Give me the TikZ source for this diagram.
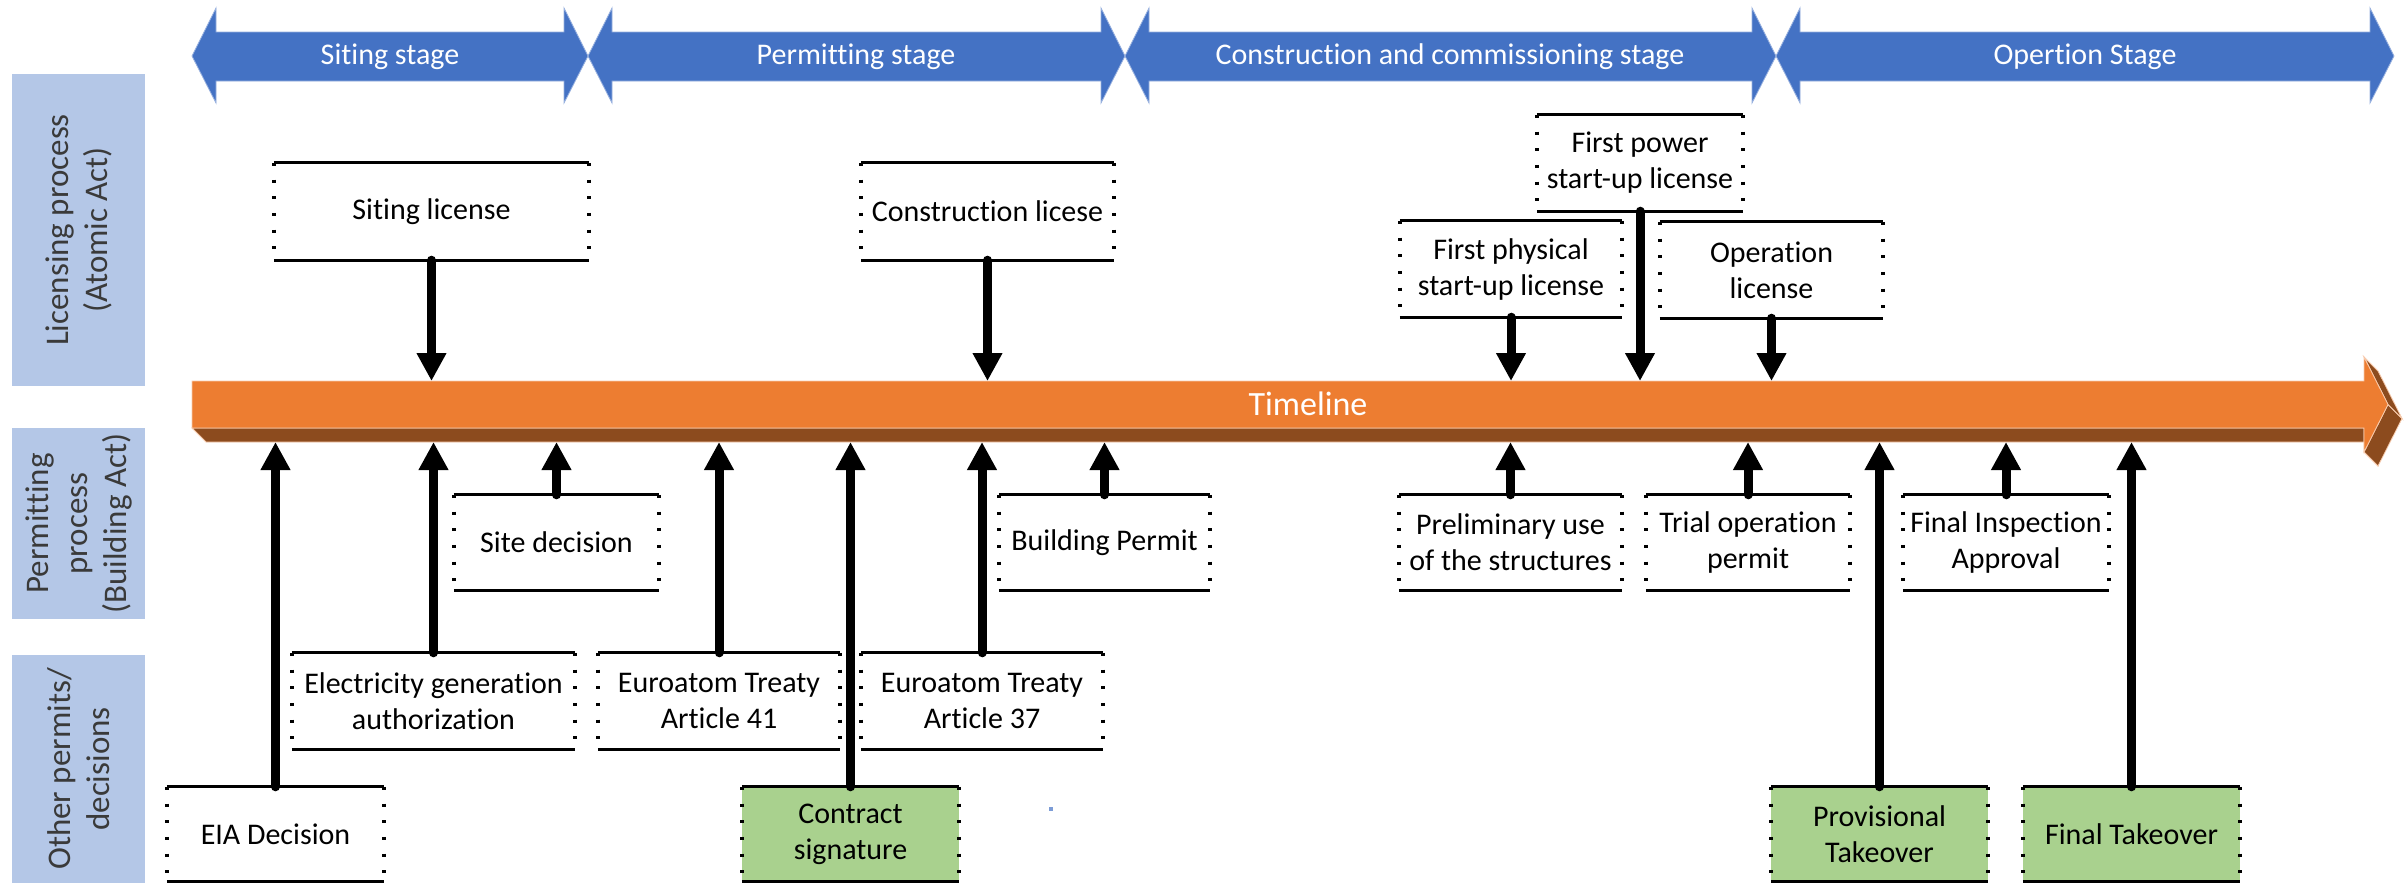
\documentclass[tikz,border=0pt]{standalone}
\usepackage{fontspec}
\setmainfont{Carlito}[Ligatures=NoCommon]
\usetikzlibrary{arrows.meta}
\definecolor{stageblue}{HTML}{4472C4}
\definecolor{labelblue}{HTML}{B4C7E7}
\definecolor{tlfront}{HTML}{ED7D31}
\definecolor{tlside}{HTML}{8C4B1E}
\definecolor{tledge}{HTML}{F8CBAD}
\definecolor{takegreen}{HTML}{A9D18E}
\definecolor{lanetextcol}{HTML}{3A3A3A}
\begin{document}
\begin{tikzpicture}[x=1pt,y=-1pt,
  stagearrow/.style={fill=stageblue, draw=stageblue!55!white, line width=0.8pt},
  stagetext/.style={text=white, inner sep=0pt, font=\fontsize{30}{36}\selectfont},
  lanebox/.style={fill=labelblue, rotate=90, minimum height=133pt, inner sep=0pt, align=center, text=lanetextcol, font=\fontsize{33}{39}\selectfont},
  evbox/.style={inner sep=0pt, align=center, font=\fontsize{30}{36}\selectfont},
  greenbox/.style={evbox, fill=takegreen},
  solidedge/.style={line width=3.2pt},
  dotedge/.style={line width=3.5pt, dash pattern=on 3pt off 13.7pt},
  conn/.style={line width=9pt, line cap=round, -{Triangle[length=28pt,width=28pt]}},
]
\useasboundingbox (0,0) rectangle (2405,884);
\fill[white] (0,0) rectangle (2405,884);

% stage arrows
\filldraw[stagearrow] (192,56) -- (216,8) -- (216,32) -- (564,32) -- (564,8) -- (588,56) -- (564,103) -- (564,81) -- (216,81) -- (216,103) -- cycle;
\filldraw[stagearrow] (588,56) -- (612,8) -- (612,32) -- (1101,32) -- (1101,8) -- (1125,56) -- (1101,103) -- (1101,81) -- (612,81) -- (612,103) -- cycle;
\filldraw[stagearrow] (1125,56) -- (1149,8) -- (1149,32) -- (1752,32) -- (1752,8) -- (1776,56) -- (1752,103) -- (1752,81) -- (1149,81) -- (1149,103) -- cycle;
\filldraw[stagearrow] (1776,56) -- (1800,8) -- (1800,32) -- (2370,32) -- (2370,8) -- (2394,56) -- (2370,103) -- (2370,81) -- (1800,81) -- (1800,103) -- cycle;
\node[stagetext] (stage1) at (390,57) {Siting stage};
\node[stagetext] (stage2) at (856,57) {Permitting stage};
\node[stagetext] (stage3) at (1450,57) {Construction and commissioning stage};
\node[stagetext] (stage4) at (2085,57) {Opertion Stage};

% lane labels
\node[lanebox, minimum width=312pt] (lane1) at (78.5,230) {Licensing process\\(Atomic Act)};
\node[lanebox, minimum width=191pt] (lane2) at (78.5,523.5) {Permitting\\process\\(Building Act)};
\node[lanebox, minimum width=228pt] (lane3) at (78.5,769) {Other permits/\\decisions};

% timeline (3D arrow)
\filldraw[fill=tlside, draw=tledge, line width=0.8pt] (192,428) -- (2364,428) -- (2378,442) -- (206,442) -- cycle;
\filldraw[fill=tlside, draw=tledge, line width=0.8pt] (2364,428) -- (2364,452) -- (2378,466) -- (2378,442) -- cycle;
\filldraw[fill=tlside, draw=tledge, line width=0.8pt] (2364,452) -- (2388,404.5) -- (2402,418.5) -- (2378,466) -- cycle;
\filldraw[fill=tlside, draw=tledge, line width=0.8pt] (2364,357) -- (2388,404.5) -- (2402,418.5) -- (2378,371) -- cycle;
\filldraw[fill=tlfront, draw=tledge, line width=0.8pt] (192,381) -- (2364,381) -- (2364,357) -- (2388,404.5) -- (2364,452) -- (2364,428) -- (192,428) -- cycle;
\node[text=white, inner sep=0pt, font=\fontsize{34}{40}\selectfont] (tl) at (1308,404) {Timeline};
\coordinate (tltop) at (0,381);
\coordinate (tlbot) at (0,442);

% licensing boxes
\node[evbox, minimum width=315pt, minimum height=97pt] (siting) at (431.5,211.5) {Siting license};
\node[evbox, minimum width=253pt, minimum height=97pt] (constr) at (987.5,211.5) {Construction licese};
\node[evbox, minimum width=206pt, minimum height=96pt] (fpower) at (1640,163) {First power\\start-up license};
\node[evbox, minimum width=222pt, minimum height=96pt] (fphys) at (1511,269) {First physical\\start-up license};
\node[evbox, minimum width=223pt, minimum height=96pt] (oplic) at (1771.5,270) {Operation\\license};

% permitting boxes
\node[evbox, minimum width=205pt, minimum height=95pt] (sitedec) at (556.5,542.5) {Site decision};
\node[evbox, minimum width=211pt, minimum height=95pt] (buildp) at (1104.5,542.5) {Building Permit};
\node[evbox, minimum width=223pt, minimum height=95pt] (prelim) at (1510.5,542.5) {Preliminary use\\of the structures};
\node[evbox, minimum width=204pt, minimum height=95pt] (trial) at (1748,542.5) {Trial operation\\permit};
\node[evbox, minimum width=206pt, minimum height=95pt] (finsp) at (2006,542.5) {Final Inspection\\Approval};

% other permits
\node[evbox, minimum width=283pt, minimum height=96pt] (elec) at (433.5,701) {Electricity generation\\authorization};
\node[evbox, minimum width=242pt, minimum height=96pt] (eur41) at (719,701) {Euroatom Treaty\\Article 41};
\node[evbox, minimum width=242pt, minimum height=96pt] (eur37) at (982,701) {Euroatom Treaty\\Article 37};
\node[evbox, minimum width=217pt, minimum height=94pt] (eia) at (275.5,834) {EIA Decision};
\node[greenbox, minimum width=217pt, minimum height=94pt] (contract) at (850.5,834) {Contract\\signature};
\node[greenbox, minimum width=217pt, minimum height=94pt] (prov) at (1879.5,834) {Provisional\\Takeover};
\node[greenbox, minimum width=217pt, minimum height=94pt] (finalt) at (2131.5,834) {Final Takeover};

% box edges
\foreach \n in {siting,constr,fpower,fphys,oplic,sitedec,buildp,prelim,trial,finsp,elec,eur41,eur37,eia,contract,prov,finalt}{
  \draw[solidedge] (\n.north west) -- (\n.north east) (\n.south west) -- (\n.south east);
  \draw[dotedge] (\n.north west) -- (\n.south west) (\n.north east) -- (\n.south east);
}

% connectors
\foreach \n in {siting,constr,fphys,fpower,oplic}
  \draw[conn] (\n.south) -- (\n.south |- tltop);
\foreach \n in {eia,elec,sitedec,eur41,contract,eur37,buildp,prelim,trial,prov,finsp,finalt}
  \draw[conn] (\n.north) -- (\n.north |- tlbot);

% small stray dot
\fill[stageblue!70!white] (1049,807) rectangle (1053,811);
\end{tikzpicture}
\end{document}
